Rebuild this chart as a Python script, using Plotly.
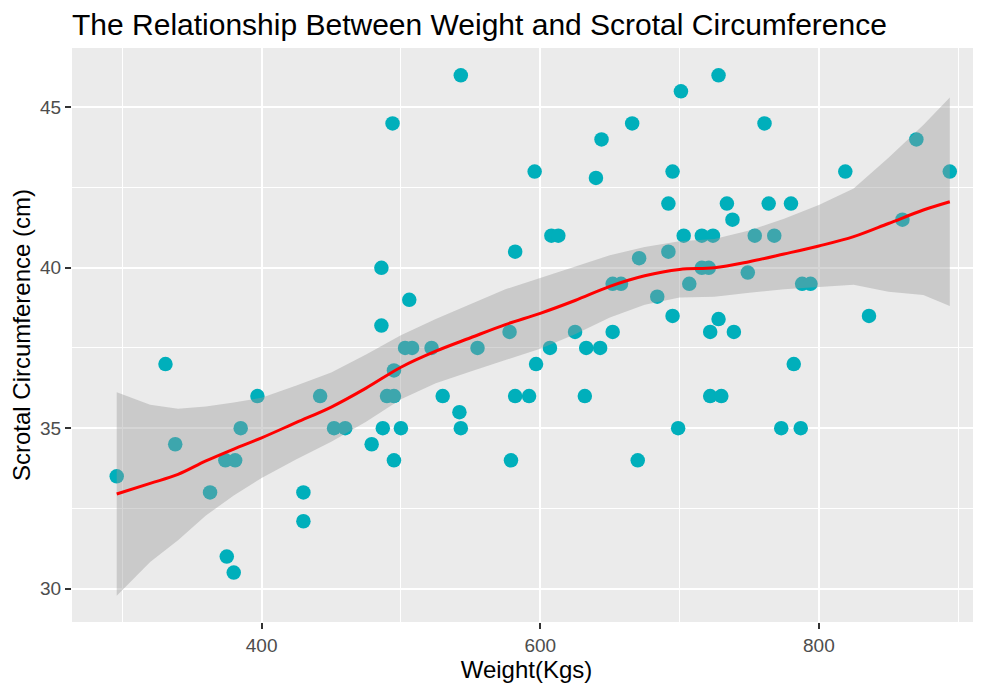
import plotly.graph_objects as go

# Scatter data: weight (kg) and scrotal circumference (cm)
weight = [296, 331, 338, 363, 374, 381, 375, 380, 385, 397,
          430, 430, 442, 452, 460, 479, 486, 486, 487, 490,
          495, 494, 495, 495, 500, 503, 508, 506, 522, 530,
          542, 543, 543, 555, 578, 579, 582, 582, 592, 596,
          597, 607, 608, 613, 625, 632, 633, 640, 643, 644,
          652, 652, 658, 666, 670, 671, 684, 692, 692, 695,
          695, 699, 701, 703, 707, 716, 724, 716, 721, 722,
          722, 728, 728, 730, 734, 738, 739, 749, 754, 761,
          764, 768, 773, 780, 782, 787, 788, 794, 819, 836,
          860, 870, 894]
scrotal = [33.5, 37.0, 34.5, 33.0, 34.0, 34.0, 31.0, 30.5, 35.0, 36.0,
           33.0, 32.1, 36.0, 35.0, 35.0, 34.5, 40.0, 38.2, 35.0, 36.0,
           36.0, 44.5, 36.8, 34.0, 35.0, 37.5, 37.5, 39.0, 37.5, 36.0,
           35.5, 35.0, 46.0, 37.5, 38.0, 34.0, 40.5, 36.0, 36.0, 43.0,
           37.0, 37.5, 41.0, 41.0, 38.0, 36.0, 37.5, 42.8, 37.5, 44.0,
           39.5, 38.0, 39.5, 44.5, 34.0, 40.3, 39.1, 42.0, 40.5, 43.0,
           38.5, 35.0, 45.5, 41.0, 39.5, 41.0, 41.0, 40.0, 40.0, 38.0,
           36.0, 46.0, 38.4, 36.0, 42.0, 41.5, 38.0, 39.85, 41.0, 44.5,
           42.0, 41.0, 35.0, 42.0, 37.0, 35.0, 39.5, 39.5, 43.0, 38.5,
           41.5, 44.0, 43.0]

# Loess smooth with confidence band
smooth_x = [296, 320, 340, 360, 380, 400, 425, 450, 475, 500, 525, 550, 575,
            600, 625, 650, 675, 700, 725, 750, 775, 800, 825, 850, 875, 894]
smooth_y = [32.95, 33.28, 33.56, 33.98, 34.35, 34.70, 35.18, 35.66, 36.25, 36.90,
            37.40, 37.82, 38.23, 38.58, 38.98, 39.42, 39.75, 39.95, 40.00, 40.19,
            40.43, 40.68, 40.97, 41.38, 41.80, 42.06]
smooth_hi = [36.12, 35.73, 35.61, 35.68, 35.80, 35.95, 36.33, 36.74, 37.30, 37.90,
             38.40, 38.87, 39.33, 39.68, 40.03, 40.39, 40.65, 40.83, 40.90, 41.16,
             41.53, 41.96, 42.47, 43.43, 44.45, 45.31]
smooth_lo = [29.78, 30.83, 31.51, 32.28, 32.90, 33.45, 34.03, 34.58, 35.20, 35.90,
             36.40, 36.77, 37.13, 37.48, 37.93, 38.45, 38.85, 39.07, 39.10, 39.22,
             39.33, 39.40, 39.47, 39.25, 39.15, 38.81]

FONT = "Liberation Sans, Arial, sans-serif"

fig = go.Figure()
fig.add_trace(go.Scatter(
    x=weight, y=scrotal, mode="markers",
    marker=dict(color="#00AFBB", size=14.5, line=dict(width=0)),
    showlegend=False))
fig.add_trace(go.Scatter(
    x=smooth_x + smooth_x[::-1], y=smooth_hi + smooth_lo[::-1],
    fill="toself", fillcolor="rgba(153,153,153,0.4)",
    line=dict(width=0), mode="lines", showlegend=False, hoverinfo="skip"))
fig.add_trace(go.Scatter(
    x=smooth_x, y=smooth_y, mode="lines",
    line=dict(color="#FF0000", width=3, shape="spline"),
    showlegend=False))

axis_common = dict(
    automargin=False,
    showgrid=True, gridcolor="white", gridwidth=2.2,
    zeroline=False, showline=False,
    ticks="outside", ticklen=6, tickwidth=1.5, tickcolor="#333333",
    tickfont=dict(family=FONT, size=19, color="#4D4D4D"),
)

H = 685
fig.update_layout(
    width=973, height=H,
    margin=dict(l=64, r=0, t=40, b=71),
    paper_bgcolor="white", plot_bgcolor="#EBEBEB",
    font=dict(family=FONT),
    title=dict(text="The Relationship Between Weight and Scrotal Circumference",
               font=dict(family=FONT, size=30, color="black"),
               x=0, xref="paper", xanchor="left",
               y=1 - 16 / H, yref="container", yanchor="middle"),
    xaxis=dict(range=[263.9, 916.4], tick0=400, dtick=200,
               minor=dict(dtick=100, tick0=300, showgrid=True,
                          gridcolor="white", gridwidth=1.1),
               title=dict(text="Weight(Kgs)", standoff=6,
                          font=dict(family=FONT, size=24, color="black")),
               **axis_common),
    yaxis=dict(range=[28.96, 46.85], tick0=30, dtick=5,
               minor=dict(dtick=2.5, tick0=30, showgrid=True,
                          gridcolor="white", gridwidth=1.1),
               title=dict(text="Scrotal Circumference (cm)", standoff=8,
                          font=dict(family=FONT, size=24, color="black")),
               **axis_common),
)

fig.write_html("out.html")
